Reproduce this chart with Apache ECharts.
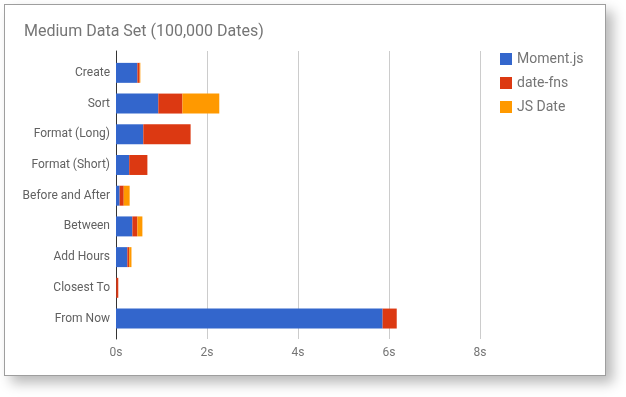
<!DOCTYPE html>
<html>
<head>
<meta charset="utf-8">
<script src="https://cdn.jsdelivr.net/npm/echarts@6/dist/echarts.min.js"></script>
<style>
  html, body { margin: 0; padding: 0; background: #fff; }
  #card { position: absolute; left: 4px; top: 4px; width: 602px; height: 372px; box-sizing: border-box;
          border: 1px solid #9e9e9e; background: #fff; box-shadow: 7px 7px 12px rgba(0,0,0,0.28); }
  #chart { position: absolute; left: 0; top: 0; width: 626px; height: 397px; }
</style>
</head>
<body>
<div id="card"></div>
<div id="chart"></div>
<script>
const categories = ['Create', 'Sort', 'Format (Long)', 'Format (Short)', 'Before and After', 'Between', 'Add Hours', 'Closest To', 'From Now'];
const momentJs = [0.47, 0.93, 0.60, 0.29, 0.08, 0.36, 0.25, 0.005, 5.86];
const dateFns  = [0.05, 0.53, 1.04, 0.40, 0.09, 0.11, 0.04, 0.045, 0.31];
const jsDate   = [0.015, 0.81, 0, 0, 0.13, 0.11, 0.05, 0, 0];
const seriesNames = ['Moment.js', 'date-fns', 'JS Date'];
const colors = ['#3366cc', '#dc3912', '#ff9900'];
const tickMax = 8;
const tickInterval = 2;

const chart = echarts.init(document.getElementById('chart'), null, { renderer: 'canvas' });
const fontFamily = 'Roboto, Arial, sans-serif';

chart.setOption({
  animation: false,
  color: colors,
  title: {
    text: 'Medium Data Set (100,000 Dates)',
    left: 19, top: 19,
    textStyle: { fontFamily, fontSize: 16, fontWeight: 'normal', color: '#757575' }
  },
  legend: {
    orient: 'vertical',
    left: 500, top: 52,
    padding: 0,
    itemWidth: 12, itemHeight: 12, itemGap: 10,
    icon: 'rect',
    data: seriesNames,
    textStyle: { fontFamily, fontSize: 14, color: '#757575' }
  },
  grid: [
    { left: 116, width: 364, top: 51, height: 288 },
    { left: 116, width: 364, top: 57.5, height: 276.4 }
  ],
  xAxis: [
    {
      gridIndex: 0, type: 'value', min: 0, max: tickMax, interval: tickInterval,
      axisLine: { show: false }, axisTick: { show: false },
      splitLine: { lineStyle: { color: '#cccccc', width: 1 } },
      axisLabel: { fontFamily, fontSize: 12, color: '#757575', margin: 8, formatter: v => v + 's' }
    },
    {
      gridIndex: 1, type: 'value', min: 0, max: tickMax, interval: tickInterval,
      show: false
    }
  ],
  yAxis: [
    {
      gridIndex: 0, type: 'category', data: categories, inverse: true,
      axisLine: { show: true, lineStyle: { color: '#333333', width: 1 } },
      axisTick: { show: false }, axisLabel: { show: false }, splitLine: { show: false }
    },
    {
      gridIndex: 1, type: 'category', data: categories, inverse: true,
      axisLine: { show: false }, axisTick: { show: false },
      axisLabel: { fontFamily, fontSize: 12, color: '#616161', margin: 6 }
    }
  ],
  series: [
    { name: seriesNames[0], type: 'bar', stack: 'total', xAxisIndex: 1, yAxisIndex: 1, data: momentJs, barCategoryGap: '35%' },
    { name: seriesNames[1], type: 'bar', stack: 'total', xAxisIndex: 1, yAxisIndex: 1, data: dateFns, barCategoryGap: '35%' },
    { name: seriesNames[2], type: 'bar', stack: 'total', xAxisIndex: 1, yAxisIndex: 1, data: jsDate, barCategoryGap: '35%' }
  ]
});
</script>
</body>
</html>
